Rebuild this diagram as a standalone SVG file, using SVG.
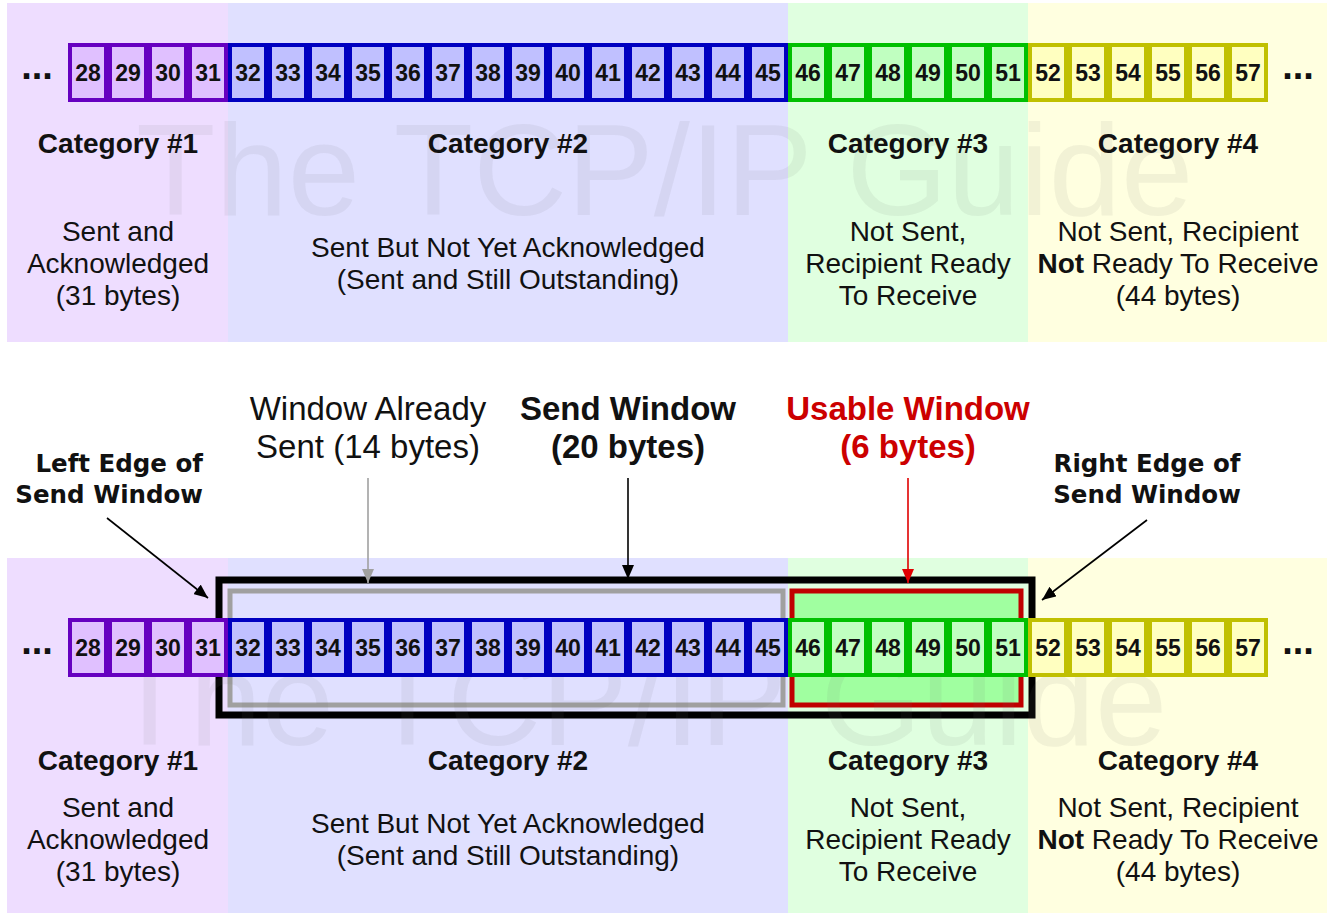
<svg xmlns="http://www.w3.org/2000/svg" width="1330" height="913" viewBox="0 0 1330 913">
  <style>
    text { font-family: "Liberation Sans", Arial, sans-serif; fill: #111; }
    .num { font-size: 23px; font-weight: bold; text-anchor: middle; }
    .dots { font-size: 38px; font-weight: bold; text-anchor: middle; }
    .cat { font-size: 28px; font-weight: bold; text-anchor: middle; }
    .desc { font-size: 28px; text-anchor: middle; }
    .big { font-size: 33px; text-anchor: middle; }
    .bold { font-weight: bold; }
    .edge { font-family: "DejaVu Sans", Verdana, sans-serif; font-size: 24.5px; font-weight: bold; }
    .wm { font-size: 130px; fill: #707070; fill-opacity: 0.09; }
    .c1 { fill: #6600C0; } .l1 { fill: #E0C0FF; } .b1 { fill: #EEDDFF; }
    .c2 { fill: #0000C0; } .l2 { fill: #C0C0FF; } .b2 { fill: #E0E0FF; }
    .c3 { fill: #00C000; } .l3 { fill: #C0FFC0; } .b3 { fill: #E0FFE0; }
    .c4 { fill: #C0C000; } .l4 { fill: #FFFFC0; } .b4 { fill: #FFFFE0; }
    .arrow { fill: none; stroke-width: 1.6; }
  </style>
  <defs>
    <marker id="headBlack" viewBox="0 0 14 12" refX="14" refY="6" markerWidth="14" markerHeight="12" markerUnits="userSpaceOnUse" orient="auto">
      <path d="M0,0 L14,6 L0,12 z" fill="#000"/>
    </marker>
    <marker id="headGray" viewBox="0 0 14 12" refX="14" refY="6" markerWidth="14" markerHeight="12" markerUnits="userSpaceOnUse" orient="auto">
      <path d="M0,0 L14,6 L0,12 z" fill="#A0A0A0"/>
    </marker>
    <marker id="headRed" viewBox="0 0 14 12" refX="14" refY="6" markerWidth="14" markerHeight="12" markerUnits="userSpaceOnUse" orient="auto">
      <path d="M0,0 L14,6 L0,12 z" fill="#E00000"/>
    </marker>
  </defs>

  <rect width="1330" height="913" fill="#fff"/>

  <!-- category background bands -->
  <g id="bands">
    <rect class="b1" x="7" y="3" width="221" height="339"/>
    <rect class="b2" x="228" y="3" width="560" height="339"/>
    <rect class="b3" x="788" y="3" width="240" height="339"/>
    <rect class="b4" x="1028" y="3" width="299" height="339"/>
    <rect class="b1" x="7" y="558" width="221" height="355"/>
    <rect class="b2" x="228" y="558" width="560" height="355"/>
    <rect class="b3" x="788" y="558" width="240" height="355"/>
    <rect class="b4" x="1028" y="558" width="299" height="355"/>
  </g>

  <!-- window frames -->
  <g id="send-window">
    <rect x="219" y="580" width="813" height="135" fill="none" stroke="#000" stroke-width="7"/>
  </g>
  <g id="already-sent-window">
    <rect x="230" y="591" width="553" height="114" fill="none" stroke="#A0A0A0" stroke-width="5"/>
  </g>
  <g id="usable-window">
    <rect x="792" y="591" width="229" height="114" fill="#A0FFA0" stroke="#C00000" stroke-width="5"/>
  </g>

  <!-- faint watermark -->
  <g id="watermark">
    <text class="wm" x="136" y="215">The TCP/IP Guide</text>
    <text class="wm" x="110" y="745">The TCP/IP Guide</text>
  </g>

  <!-- top byte stream -->
  <g id="stream-top">
    <text class="dots" x="37" y="79">...</text>
    <text class="dots" x="1298" y="79">...</text>
    <g id="top-cat1">
      <rect class="c1" x="68" y="43" width="160" height="59"/>
      <rect class="l1" x="72" y="47" width="32" height="51"/>
      <rect class="l1" x="112" y="47" width="32" height="51"/>
      <rect class="l1" x="152" y="47" width="32" height="51"/>
      <rect class="l1" x="192" y="47" width="32" height="51"/>
      <text class="num" x="88" y="81">28</text>
      <text class="num" x="128" y="81">29</text>
      <text class="num" x="168" y="81">30</text>
      <text class="num" x="208" y="81">31</text>
    </g>
    <g id="top-cat2">
      <rect class="c2" x="228" y="43" width="560" height="59"/>
      <rect class="l2" x="232" y="47" width="32" height="51"/>
      <rect class="l2" x="272" y="47" width="32" height="51"/>
      <rect class="l2" x="312" y="47" width="32" height="51"/>
      <rect class="l2" x="352" y="47" width="32" height="51"/>
      <rect class="l2" x="392" y="47" width="32" height="51"/>
      <rect class="l2" x="432" y="47" width="32" height="51"/>
      <rect class="l2" x="472" y="47" width="32" height="51"/>
      <rect class="l2" x="512" y="47" width="32" height="51"/>
      <rect class="l2" x="552" y="47" width="32" height="51"/>
      <rect class="l2" x="592" y="47" width="32" height="51"/>
      <rect class="l2" x="632" y="47" width="32" height="51"/>
      <rect class="l2" x="672" y="47" width="32" height="51"/>
      <rect class="l2" x="712" y="47" width="32" height="51"/>
      <rect class="l2" x="752" y="47" width="32" height="51"/>
      <text class="num" x="248" y="81">32</text>
      <text class="num" x="288" y="81">33</text>
      <text class="num" x="328" y="81">34</text>
      <text class="num" x="368" y="81">35</text>
      <text class="num" x="408" y="81">36</text>
      <text class="num" x="448" y="81">37</text>
      <text class="num" x="488" y="81">38</text>
      <text class="num" x="528" y="81">39</text>
      <text class="num" x="568" y="81">40</text>
      <text class="num" x="608" y="81">41</text>
      <text class="num" x="648" y="81">42</text>
      <text class="num" x="688" y="81">43</text>
      <text class="num" x="728" y="81">44</text>
      <text class="num" x="768" y="81">45</text>
    </g>
    <g id="top-cat3">
      <rect class="c3" x="788" y="43" width="240" height="59"/>
      <rect class="l3" x="792" y="47" width="32" height="51"/>
      <rect class="l3" x="832" y="47" width="32" height="51"/>
      <rect class="l3" x="872" y="47" width="32" height="51"/>
      <rect class="l3" x="912" y="47" width="32" height="51"/>
      <rect class="l3" x="952" y="47" width="32" height="51"/>
      <rect class="l3" x="992" y="47" width="32" height="51"/>
      <text class="num" x="808" y="81">46</text>
      <text class="num" x="848" y="81">47</text>
      <text class="num" x="888" y="81">48</text>
      <text class="num" x="928" y="81">49</text>
      <text class="num" x="968" y="81">50</text>
      <text class="num" x="1008" y="81">51</text>
    </g>
    <g id="top-cat4">
      <rect class="c4" x="1028" y="43" width="240" height="59"/>
      <rect class="l4" x="1032" y="47" width="32" height="51"/>
      <rect class="l4" x="1072" y="47" width="32" height="51"/>
      <rect class="l4" x="1112" y="47" width="32" height="51"/>
      <rect class="l4" x="1152" y="47" width="32" height="51"/>
      <rect class="l4" x="1192" y="47" width="32" height="51"/>
      <rect class="l4" x="1232" y="47" width="32" height="51"/>
      <text class="num" x="1048" y="81">52</text>
      <text class="num" x="1088" y="81">53</text>
      <text class="num" x="1128" y="81">54</text>
      <text class="num" x="1168" y="81">55</text>
      <text class="num" x="1208" y="81">56</text>
      <text class="num" x="1248" y="81">57</text>
    </g>
  </g>

  <!-- top category captions -->
  <g id="top-captions">
    <text class="cat" x="118" y="153">Category #1</text>
    <text class="desc" x="118" y="241">Sent and</text>
    <text class="desc" x="118" y="273">Acknowledged</text>
    <text class="desc" x="118" y="305">(31 bytes)</text>
    <text class="cat" x="508" y="153">Category #2</text>
    <text class="desc" x="508" y="257">Sent But Not Yet Acknowledged</text>
    <text class="desc" x="508" y="289">(Sent and Still Outstanding)</text>
    <text class="cat" x="908" y="153">Category #3</text>
    <text class="desc" x="908" y="241">Not Sent,</text>
    <text class="desc" x="908" y="273">Recipient Ready</text>
    <text class="desc" x="908" y="305">To Receive</text>
    <text class="cat" x="1178" y="153">Category #4</text>
    <text class="desc" x="1178" y="241">Not Sent, Recipient</text>
    <text class="desc" x="1178" y="273"><tspan class="bold">Not</tspan> Ready To Receive</text>
    <text class="desc" x="1178" y="305">(44 bytes)</text>
  </g>

  <!-- bottom byte stream -->
  <g id="stream-bottom">
    <text class="dots" x="37" y="654">...</text>
    <text class="dots" x="1298" y="654">...</text>
    <g id="bot-cat1">
      <rect class="c1" x="68" y="618" width="160" height="59"/>
      <rect class="l1" x="72" y="622" width="32" height="51"/>
      <rect class="l1" x="112" y="622" width="32" height="51"/>
      <rect class="l1" x="152" y="622" width="32" height="51"/>
      <rect class="l1" x="192" y="622" width="32" height="51"/>
      <text class="num" x="88" y="656">28</text>
      <text class="num" x="128" y="656">29</text>
      <text class="num" x="168" y="656">30</text>
      <text class="num" x="208" y="656">31</text>
    </g>
    <g id="bot-cat2">
      <rect class="c2" x="228" y="618" width="560" height="59"/>
      <rect class="l2" x="232" y="622" width="32" height="51"/>
      <rect class="l2" x="272" y="622" width="32" height="51"/>
      <rect class="l2" x="312" y="622" width="32" height="51"/>
      <rect class="l2" x="352" y="622" width="32" height="51"/>
      <rect class="l2" x="392" y="622" width="32" height="51"/>
      <rect class="l2" x="432" y="622" width="32" height="51"/>
      <rect class="l2" x="472" y="622" width="32" height="51"/>
      <rect class="l2" x="512" y="622" width="32" height="51"/>
      <rect class="l2" x="552" y="622" width="32" height="51"/>
      <rect class="l2" x="592" y="622" width="32" height="51"/>
      <rect class="l2" x="632" y="622" width="32" height="51"/>
      <rect class="l2" x="672" y="622" width="32" height="51"/>
      <rect class="l2" x="712" y="622" width="32" height="51"/>
      <rect class="l2" x="752" y="622" width="32" height="51"/>
      <text class="num" x="248" y="656">32</text>
      <text class="num" x="288" y="656">33</text>
      <text class="num" x="328" y="656">34</text>
      <text class="num" x="368" y="656">35</text>
      <text class="num" x="408" y="656">36</text>
      <text class="num" x="448" y="656">37</text>
      <text class="num" x="488" y="656">38</text>
      <text class="num" x="528" y="656">39</text>
      <text class="num" x="568" y="656">40</text>
      <text class="num" x="608" y="656">41</text>
      <text class="num" x="648" y="656">42</text>
      <text class="num" x="688" y="656">43</text>
      <text class="num" x="728" y="656">44</text>
      <text class="num" x="768" y="656">45</text>
    </g>
    <g id="bot-cat3">
      <rect class="c3" x="788" y="618" width="240" height="59"/>
      <rect class="l3" x="792" y="622" width="32" height="51"/>
      <rect class="l3" x="832" y="622" width="32" height="51"/>
      <rect class="l3" x="872" y="622" width="32" height="51"/>
      <rect class="l3" x="912" y="622" width="32" height="51"/>
      <rect class="l3" x="952" y="622" width="32" height="51"/>
      <rect class="l3" x="992" y="622" width="32" height="51"/>
      <text class="num" x="808" y="656">46</text>
      <text class="num" x="848" y="656">47</text>
      <text class="num" x="888" y="656">48</text>
      <text class="num" x="928" y="656">49</text>
      <text class="num" x="968" y="656">50</text>
      <text class="num" x="1008" y="656">51</text>
    </g>
    <g id="bot-cat4">
      <rect class="c4" x="1028" y="618" width="240" height="59"/>
      <rect class="l4" x="1032" y="622" width="32" height="51"/>
      <rect class="l4" x="1072" y="622" width="32" height="51"/>
      <rect class="l4" x="1112" y="622" width="32" height="51"/>
      <rect class="l4" x="1152" y="622" width="32" height="51"/>
      <rect class="l4" x="1192" y="622" width="32" height="51"/>
      <rect class="l4" x="1232" y="622" width="32" height="51"/>
      <text class="num" x="1048" y="656">52</text>
      <text class="num" x="1088" y="656">53</text>
      <text class="num" x="1128" y="656">54</text>
      <text class="num" x="1168" y="656">55</text>
      <text class="num" x="1208" y="656">56</text>
      <text class="num" x="1248" y="656">57</text>
    </g>
  </g>

  <!-- bottom category captions -->
  <g id="bottom-captions">
    <text class="cat" x="118" y="770">Category #1</text>
    <text class="desc" x="118" y="817">Sent and</text>
    <text class="desc" x="118" y="849">Acknowledged</text>
    <text class="desc" x="118" y="881">(31 bytes)</text>
    <text class="cat" x="508" y="770">Category #2</text>
    <text class="desc" x="508" y="833">Sent But Not Yet Acknowledged</text>
    <text class="desc" x="508" y="865">(Sent and Still Outstanding)</text>
    <text class="cat" x="908" y="770">Category #3</text>
    <text class="desc" x="908" y="817">Not Sent,</text>
    <text class="desc" x="908" y="849">Recipient Ready</text>
    <text class="desc" x="908" y="881">To Receive</text>
    <text class="cat" x="1178" y="770">Category #4</text>
    <text class="desc" x="1178" y="817">Not Sent, Recipient</text>
    <text class="desc" x="1178" y="849"><tspan class="bold">Not</tspan> Ready To Receive</text>
    <text class="desc" x="1178" y="881">(44 bytes)</text>
  </g>

  <!-- window labels -->
  <g id="label-left-edge">
    <text class="edge" x="203" y="472" text-anchor="end">Left Edge of</text>
    <text class="edge" x="203" y="503" text-anchor="end">Send Window</text>
  </g>
  <g id="label-already-sent">
    <text class="big" x="368" y="420">Window Already</text>
    <text class="big" x="368" y="458">Sent (14 bytes)</text>
  </g>
  <g id="label-send-window">
    <text class="big bold" x="628" y="420">Send Window</text>
    <text class="big bold" x="628" y="458">(20 bytes)</text>
  </g>
  <g id="label-usable-window">
    <text class="big bold" x="908" y="420" style="fill:#CC0000">Usable Window</text>
    <text class="big bold" x="908" y="458" style="fill:#CC0000">(6 bytes)</text>
  </g>
  <g id="label-right-edge">
    <text class="edge" x="1147" y="472" text-anchor="middle">Right Edge of</text>
    <text class="edge" x="1147" y="503" text-anchor="middle">Send Window</text>
  </g>

  <!-- connectors -->
  <g id="connectors">
    <path class="arrow" d="M107,518 L208,598" stroke="#000" marker-end="url(#headBlack)"/>
    <path class="arrow" d="M1147,520 L1042,600" stroke="#000" marker-end="url(#headBlack)"/>
    <path class="arrow" d="M368,478 L368,583" stroke="#A0A0A0" stroke-width="2" marker-end="url(#headGray)"/>
    <path class="arrow" d="M628,478 L628,579" stroke="#000" stroke-width="2" marker-end="url(#headBlack)"/>
    <path class="arrow" d="M908,478 L908,583" stroke="#E00000" stroke-width="2" marker-end="url(#headRed)"/>
  </g>
</svg>
